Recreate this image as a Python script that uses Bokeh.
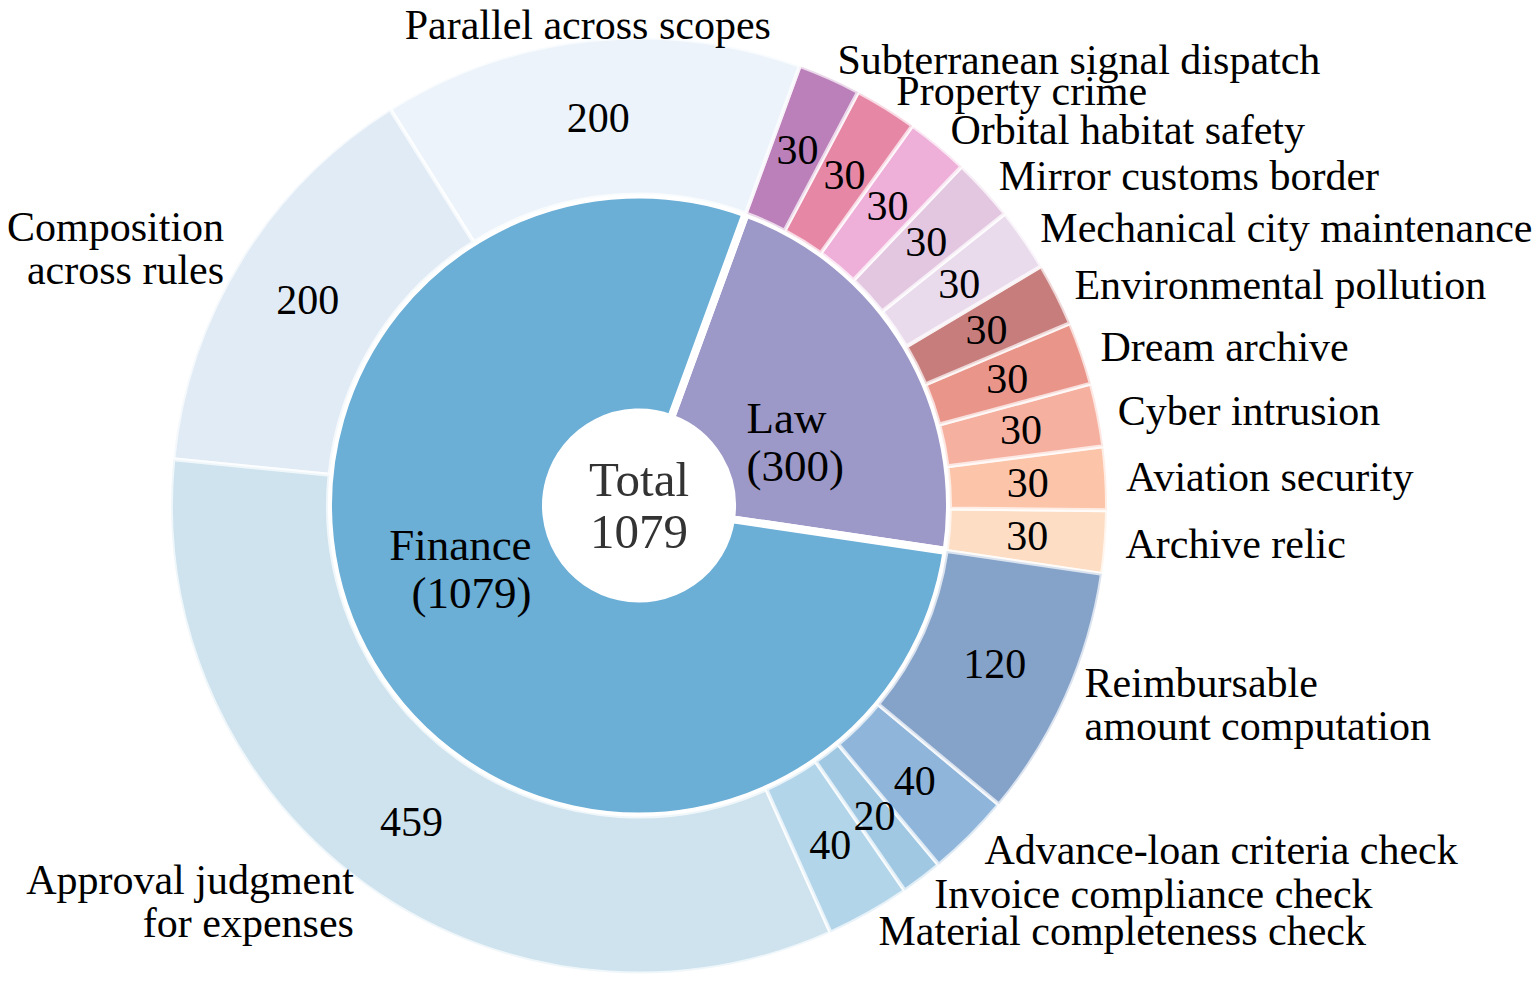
import math

from bokeh.core.properties import value
from bokeh.embed import file_html
from bokeh.models import ColumnDataSource
from bokeh.plotting import figure
from bokeh.resources import INLINE

# ---- data -------------------------------------------------------------
groups = ["Law", "Finance"]
group_values = [300, 1079]
group_colors = ["#9c98c7", "#6baed6"]

law_tasks = [
    "Archive relic", "Aviation security", "Cyber intrusion", "Dream archive",
    "Environmental pollution", "Mechanical city maintenance",
    "Mirror customs border", "Orbital habitat safety", "Property crime",
    "Subterranean signal dispatch",
]
law_values = [30, 30, 30, 30, 30, 30, 30, 30, 30, 30]
law_colors = [
    "#fdddc4", "#fcc4a8", "#f5b0a0", "#ea958a", "#c87d7d",
    "#e9daec", "#e3c7e1", "#eeb0d8", "#e787a6", "#bb7fba",
]

finance_tasks = [
    "Parallel across scopes", "Composition\nacross rules",
    "Approval judgment\nfor expenses", "Material completeness check",
    "Invoice compliance check", "Advance-loan criteria check",
    "Reimbursable\namount computation",
]
finance_values = [200, 200, 459, 40, 20, 40, 120]
finance_colors = [
    "#ecf3fa", "#e0ebf5", "#cee3ee", "#b3d5ea",
    "#a0c8e2", "#8fb6da", "#85a2c9",
]

center_title = "Total\n1079"

# ---- layout -----------------------------------------------------------
W, H = 1532, 988
CX, CY = 638.5, 505.0          # pixel position of the ring centre
R_HOLE, R_MID, R_OUT = 93, 311, 468
R_LABEL, R_INNER_LABEL = 488, 125
START_DEG = -8.4
FONT = value("Liberation Serif")
LABEL_SIZE = "42px"
TOP_MARGIN = 24                 # keeps the topmost label inside the canvas

total = sum(group_values)


def spans(values, start_deg):
    starts, ends = [], []
    a = math.radians(start_deg)
    for v in values:
        starts.append(a)
        a += 2 * math.pi * v / total
        ends.append(a)
    return starts, ends


def align_for(angle):
    c = math.cos(angle)
    if c > 0.15:
        return "left"
    if c < -0.15:
        return "right"
    return "center"


p = figure(
    width=W, height=H,
    x_range=(-CX, W - CX), y_range=(-(H - CY), CY),
    output_backend="svg", toolbar_location=None,
    min_border=0, outline_line_color=None, background_fill_color="white",
)
p.axis.visible = False
p.grid.visible = False

# inner ring: the two domains
g_start, g_end = spans(group_values, START_DEG)
inner = ColumnDataSource(dict(
    start=g_start, end=g_end, color=group_colors,
    mid=[(s + e) / 2 for s, e in zip(g_start, g_end)],
    label=[f"{g}\n({v})" for g, v in zip(groups, group_values)],
))
p.annular_wedge(
    x=0, y=0, inner_radius=R_HOLE, outer_radius=R_MID,
    start_angle="start", end_angle="end", source=inner,
    fill_color="color", line_color="white", line_width=8,
)

# outer ring: the tasks of each domain, in ring order
tasks = law_tasks + finance_tasks
task_values = law_values + finance_values
task_colors = law_colors + finance_colors
t_start, t_end = spans(task_values, START_DEG)
mids = [(s + e) / 2 for s, e in zip(t_start, t_end)]
outer = ColumnDataSource(dict(
    start=t_start, end=t_end, color=task_colors, mid=mids,
    value=[str(v) for v in task_values],
    vx=[(R_MID + R_OUT) / 2 * math.cos(m) for m in mids],
    vy=[(R_MID + R_OUT) / 2 * math.sin(m) for m in mids],
))
p.annular_wedge(
    x=0, y=0, inner_radius=R_MID, outer_radius=R_OUT,
    start_angle="start", end_angle="end", source=outer,
    fill_color="color", line_color="white", line_alpha=0.7, line_width=4,
)

# counts inside the outer ring
p.text(
    x="vx", y="vy", text="value", source=outer,
    text_font=FONT, text_font_size=LABEL_SIZE, text_color="black",
    text_align="center", text_baseline="middle",
)

# task names around the ring
src = ColumnDataSource(dict(
    x=[R_LABEL * math.cos(m) for m in mids],
    y=[min(R_LABEL * math.sin(m), CY - TOP_MARGIN) for m in mids],
    text=tasks,
    align=[align_for(m) for m in mids],
))
p.text(
    x="x", y="y", text="text", source=src,
    text_font=FONT, text_font_size=LABEL_SIZE, text_color="black",
    text_align="align", text_baseline="middle", text_line_height=0.95,
)

# domain names inside the inner ring
for i, m in enumerate(inner.data["mid"]):
    p.text(
        x=[R_INNER_LABEL * math.cos(m)], y=[R_INNER_LABEL * math.sin(m)],
        text=[inner.data["label"][i]],
        text_font=FONT, text_font_size="45px", text_color="black",
        text_align=align_for(m), text_baseline="middle", text_line_height=0.96,
    )

# centre caption
p.text(
    x=[0], y=[0], text=[center_title],
    text_font=FONT, text_font_size="49px", text_color="#333333",
    text_align="center", text_baseline="middle", text_line_height=0.94,
)

open("out.html", "w").write(file_html(p, INLINE))
